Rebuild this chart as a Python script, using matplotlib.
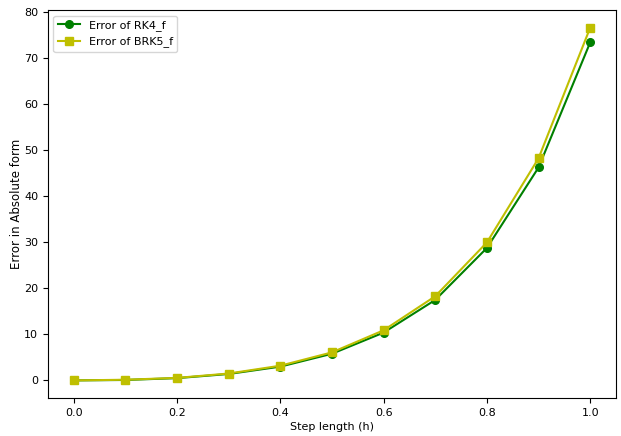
import matplotlib
matplotlib.use('Agg')
import matplotlib.pyplot as plt

h = [0.0, 0.1, 0.2, 0.3, 0.4, 0.5, 0.6, 0.7, 0.8, 0.9, 1.0]
err_rk4 = [0.0, 0.1, 0.5, 1.4, 3.0, 5.8, 10.4, 17.5, 28.8, 46.3, 73.5]
err_brk5 = [0.0, 0.15, 0.55, 1.5, 3.2, 6.1, 10.9, 18.3, 30.0, 48.3, 76.7]

plt.rcParams['font.family'] = ['DejaVu Sans']
plt.rcParams['font.size'] = 8

fig, ax = plt.subplots(figsize=(6.21, 4.36), dpi=100)
ax.plot(h, err_rk4, color='green', marker='o', markersize=5.5, label='Error of RK4_f')
ax.plot(h, err_brk5, color='y', marker='s', markersize=5.5, label='Error of BRK5_f')
ax.set_xlabel('Step length (h)', labelpad=3)
ax.set_ylabel('Error in Absolute form', fontsize=8.5, labelpad=1)
ax.legend(loc='upper left', fontsize=8)

fig.subplots_adjust(left=0.077, right=0.992, top=0.977, bottom=0.087)
fig.savefig('out.png')
